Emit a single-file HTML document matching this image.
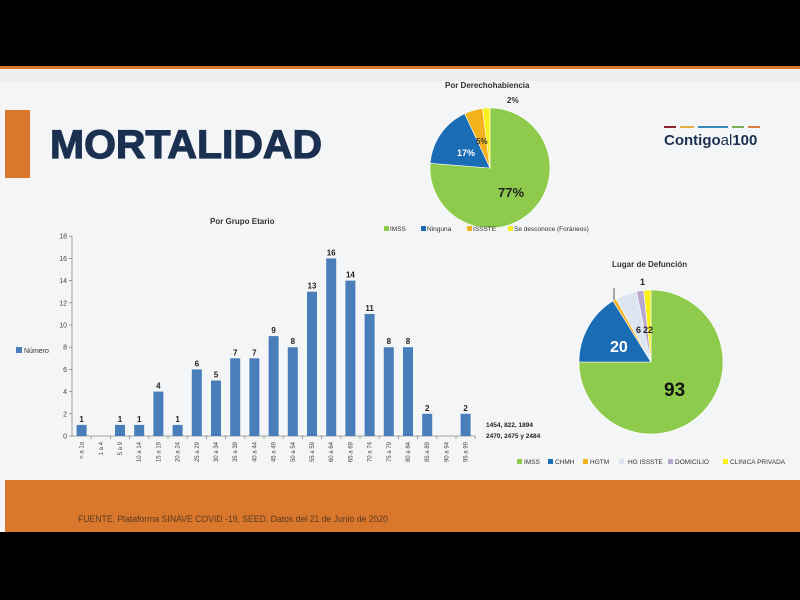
<!DOCTYPE html>
<html><head><meta charset="utf-8"><style>
html,body{margin:0;padding:0;background:#000;width:800px;height:600px;overflow:hidden}
svg{display:block}
text{font-family:"Liberation Sans",sans-serif}
</style></head><body>
<svg id="s" width="800" height="600" xmlns="http://www.w3.org/2000/svg">
<rect x="0" y="0" width="800" height="600" fill="#000"/>
<rect x="0" y="66" width="800" height="3" fill="#d97a2a"/>
<rect x="0" y="69" width="800" height="463" fill="#f4f5f6"/>
<rect x="0" y="69" width="800" height="12" fill="#eceeef"/>
<rect x="5" y="480" width="795" height="52" fill="#d9772c"/>
<text x="78" y="522" font-size="9" fill="#5a3a20" textLength="310" lengthAdjust="spacingAndGlyphs">FUENTE. Plataforma SINAVE COVID -19, SEED. Datos del 21 de Junio de 2020</text>
<rect x="5" y="110" width="25" height="68" fill="#d9772c"/>
<text x="50" y="158" font-size="40" font-weight="bold" fill="#1b3050" textLength="272" lengthAdjust="spacingAndGlyphs" stroke="#1b3050" stroke-width="1.2">MORTALIDAD</text>
<g>
<rect x="664" y="126" width="12" height="2" fill="#8c2430"/><rect x="680" y="126" width="14" height="2" fill="#e0b040"/><rect x="698" y="126" width="30" height="2" fill="#3a8ac0"/><rect x="732" y="126" width="12" height="2" fill="#7ab050"/><rect x="748" y="126" width="12" height="2" fill="#d98040"/>
<text x="664" y="145" font-size="15" font-weight="bold" fill="#1b3050">Contigo<tspan font-weight="normal">al</tspan>100</text>
</g>
<text x="210" y="224" font-size="8" font-weight="bold" fill="#333">Por Grupo Etario</text>
<rect x="16" y="347" width="6" height="6" fill="#4a7ebb"/>
<text x="24" y="353" font-size="7" fill="#333">Número</text>
<text x="486" y="427" font-size="6.5" font-weight="bold" fill="#222">1454, 822, 1894</text>
<text x="486" y="438" font-size="6.5" font-weight="bold" fill="#222">2470, 2475 y 2484</text>
<g id="bars"></g>
<text x="445" y="88" font-size="8" font-weight="bold" fill="#333">Por Derechohabiencia</text>
<g id="p1"></g>
<text x="507" y="103" font-size="8" font-weight="bold" fill="#333">2%</text>
<text x="476" y="144" font-size="8" font-weight="bold" fill="#333">5%</text>
<text x="457" y="156" font-size="9" font-weight="bold" fill="#fff">17%</text>
<text x="498" y="197" font-size="13" font-weight="bold" fill="#222">77%</text>
<g font-size="6.5" fill="#333">
<rect x="384" y="226" width="5" height="5" fill="#8ecb4c"/><text x="390" y="231">IMSS</text>
<rect x="421" y="226" width="5" height="5" fill="#1a6db5"/><text x="427" y="231">Ninguna</text>
<rect x="467" y="226" width="5" height="5" fill="#f3b21c"/><text x="473" y="231">ISSSTE</text>
<rect x="508" y="226" width="5" height="5" fill="#f8f01a"/><text x="514" y="231">Se desconoce (Foráneos)</text>
</g>
<text x="612" y="267" font-size="8" font-weight="bold" fill="#333">Lugar de Defunción</text>
<g id="p2"></g>
<text x="640" y="285" font-size="9" font-weight="bold" fill="#222">1</text>
<line x1="614" y1="288" x2="614" y2="300" stroke="#333" stroke-width="0.8"/>
<text x="636" y="333" font-size="9" font-weight="bold" fill="#222">6</text>
<text x="643" y="333" font-size="9" font-weight="bold" fill="#222">22</text>
<text x="610" y="352" font-size="16" font-weight="bold" fill="#fff">20</text>
<text x="664" y="396" font-size="19" font-weight="bold" fill="#111">93</text>
<g font-size="6.5" fill="#333">
<rect x="517" y="459" width="5" height="5" fill="#8ecb4c"/><text x="524" y="464">IMSS</text>
<rect x="548" y="459" width="5" height="5" fill="#1a6db5"/><text x="555" y="464">CHMH</text>
<rect x="583" y="459" width="5" height="5" fill="#f3b21c"/><text x="590" y="464">HGTM</text>
<rect x="619" y="459" width="5" height="5" fill="#dde6f0"/><text x="628" y="464">HG ISSSTE</text>
<rect x="668" y="459" width="5" height="5" fill="#b8a8d0"/><text x="675" y="464">DOMICILIO</text>
<rect x="723" y="459" width="5" height="5" fill="#f8f01a"/><text x="730" y="464">CLINICA PRIVADA</text>
</g>
</svg>
<script>
var NS="http://www.w3.org/2000/svg";
function el(p,t,a,txt){var e=document.createElementNS(NS,t);for(var k in a)e.setAttribute(k,a[k]);if(txt!=null)e.textContent=txt;p.appendChild(e);return e;}
var b=document.getElementById("bars");
var vals=[1,0,1,1,4,1,6,5,7,7,9,8,13,16,14,11,8,8,2,0,2];
var labs=["< a 1a","1 a 4","5 a 9","10 a 14","15 a 19","20 a 24","25 a 29","30 a 34","35 a 39","40 a 44","45 a 49","50 a 54","55 a 59","60 a 64","65 a 69","70 a 74","75 a 79","80 a 84","85 a 89","90 a 94","95 a 99"];
var x0=72,y0=436,u=11.1,w=19.2;
el(b,"line",{x1:x0,y1:236,x2:x0,y2:y0,stroke:"#888","stroke-width":0.8});
el(b,"line",{x1:x0,y1:y0,x2:x0+w*21,y2:y0,stroke:"#888","stroke-width":0.8});
for(var i=0;i<=18;i+=2){var y=y0-i*u;el(b,"line",{x1:x0-3,y1:y,x2:x0,y2:y,stroke:"#888","stroke-width":0.8});el(b,"text",{x:x0-5,y:y+2.5,"font-size":7,"text-anchor":"end",fill:"#444"},i);}
for(var i=0;i<21;i++){var cx=x0+w*(i+0.5);
el(b,"line",{x1:x0+w*(i+1),y1:y0,x2:x0+w*(i+1),y2:y0+3,stroke:"#888","stroke-width":0.8});
if(vals[i]>0){el(b,"rect",{x:cx-5,y:y0-vals[i]*u,width:10,height:vals[i]*u,fill:"#4a7ebb"});
el(b,"text",{x:cx,y:y0-vals[i]*u-3,"font-size":8,"font-weight":"bold","text-anchor":"middle",fill:"#222"},vals[i]);}
el(b,"text",{x:0,y:0,"font-size":6,"text-anchor":"end",fill:"#444",transform:"translate("+(cx+2)+","+(y0+6)+") rotate(-90)"},labs[i]);}
function pie(g,cx,cy,r,v,c){var t=v.reduce(function(a,b){return a+b},0),a=0;
for(var i=0;i<v.length;i++){var a2=a+v[i]/t*2*Math.PI;
var x1=cx+r*Math.sin(a),y1=cy-r*Math.cos(a),x2=cx+r*Math.sin(a2),y2=cy-r*Math.cos(a2);
el(g,"path",{d:"M"+cx+","+cy+"L"+x1+","+y1+"A"+r+","+r+" 0 "+((a2-a)>Math.PI?1:0)+" 1 "+x2+","+y2+"Z",fill:c[i],stroke:"#fff","stroke-width":0.6});a=a2;}}
pie(document.getElementById("p1"),490,168,60,[77,17,5,2],["#8ecb4c","#1a6db5","#f3b21c","#f8f01a"]);
pie(document.getElementById("p2"),651,362,72,[93,20,1,6,2,2],["#8ecb4c","#1a6db5","#f3b21c","#dde6f0","#b8a8d0","#f8f01a"]);
</script>
</body></html>
